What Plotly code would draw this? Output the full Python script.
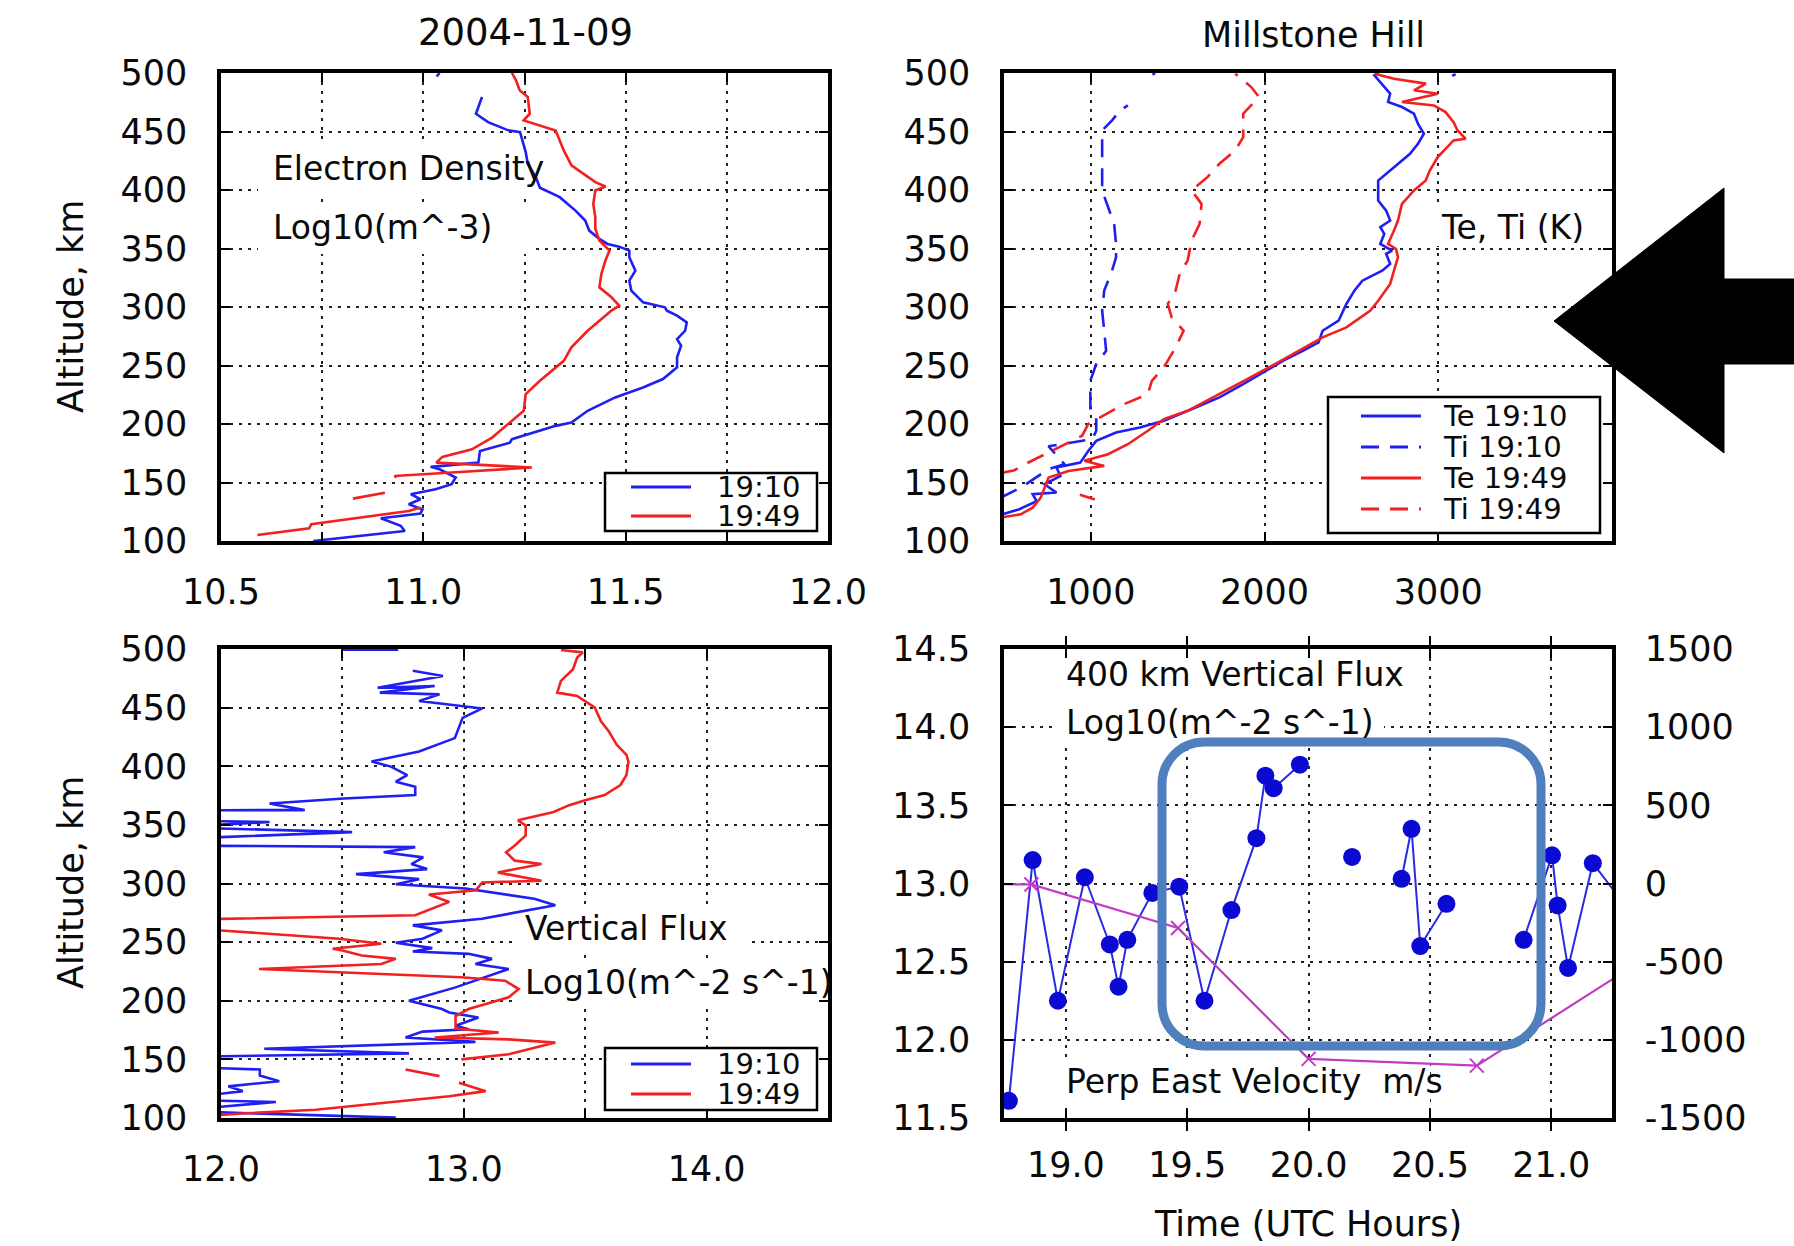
import plotly.graph_objects as go

# ---------------- data (altitude km, value) ----------------
ne_1910 = [(100,10.728),(108.6,10.954),(113,10.944),(119.4,10.895),(123.4,10.993),(127,10.998),(131.4,10.964),
           (135.7,10.993),(140,10.969),(144.2,11.03),(148.5,11.07),(154.3,11.08),(161.3,11.04),(163.4,11.018),
           (164.2,11.047),(167,11.136),(177,11.14),(180,11.17),(184,11.214),(187,11.219),(191.3,11.258),
           (198.4,11.327),(201.3,11.366),(211.3,11.406),(222.7,11.474),(231.2,11.543),(238.4,11.592),
           (248.4,11.627),(257,11.627),(266.9,11.637),(272.6,11.627),(279.8,11.647),(286.9,11.651),
           (292.6,11.627),(296.9,11.602),(299.7,11.597),(304,11.543),(314,11.514),(322.5,11.509),(331,11.524),
           (342.5,11.509),(348.2,11.509),(351.6,11.484),(353.9,11.455),(358.2,11.435),(365.3,11.41),
           (373.9,11.40),(382.4,11.376),(393.9,11.337),(401.9,11.288),(411,11.278),(422.4,11.258),
           (432.4,11.253),(442.4,11.244),(449.5,11.239),(451,11.21),(458,11.16),(465.2,11.13),(473.8,11.14),
           (479.5,11.145),(None,None),(497,11.033),(500,11.04)]
ne_1949 = [(105.1,10.59),(110.8,10.718),(114.3,10.723),(122.8,10.895),(125.7,10.964),(128.6,10.993),(None,None),
           (136.2,10.826),(141.3,10.905),(None,None),(154.2,10.934),(155.6,10.929),(158.5,11.07),(162.8,11.268),
           (167,11.032),(171.9,11.047),(178.4,11.12),(188.4,11.17),(211.3,11.248),(225.5,11.253),(236.9,11.288),
           (254,11.347),(265.5,11.366),(279.7,11.406),(296.9,11.465),(301.1,11.484),(308.3,11.465),(316.8,11.435),
           (328.3,11.44),(339.7,11.45),(348.2,11.46),(356.8,11.435),(366.8,11.425),(376.7,11.425),(388.1,11.42),
           (399.6,11.425),(403,11.45),(406.7,11.425),(413.8,11.396),(421,11.366),(433.8,11.347),(450.9,11.327),
           (459.5,11.248),(465.2,11.263),(479.5,11.258),(485.2,11.238),(493.7,11.229),(500,11.219)]

te_1910 = [(120,430),(127,585),(134,688),(140,665),(141.4,802),(148.5,733),(155.6,825),(162.8,802),(167,939),
           (177,985),(185.6,1031),(192.7,1145),(197,1282),(202.7,1420),(214.1,1603),(222.7,1740),(234,1877),
           (244,1991),(254,2105),(262.6,2220),(269.8,2311),(279.7,2334),(288.3,2426),(302.6,2471),(314,2517),
           (322.5,2563),(331,2677),(336.8,2723),(345.4,2700),(348.2,2734),(353.9,2666),(362.5,2689),(368.2,2666),
           (373.9,2723),(382.4,2700),(391,2654),(408.1,2654),(416.7,2723),(425.3,2791),(431,2837),(439.5,2883),
           (448.1,2917),(456.6,2883),(465.2,2860),(470.9,2791),(475.2,2711),(482.3,2723),(498,2632),(500,2655),
           (None,None),(497.5,3080),(499,3100)]
ti_1910 = [(137,480),(145.6,596),(161.4,756),(165.6,848),(181,756),(187,1008),(194.2,1031),(205.6,1031),
           (211.3,997),(222.7,997),(236.9,997),(251.2,1031),(262.6,1088),(279.7,1077),(296.9,1065),(314,1077),
           (331,1122),(342.5,1145),(353.9,1145),(371,1134),(385.3,1100),(399.6,1065),(413.8,1065),(436.7,1065),
           (450.9,1065),(459.5,1122),(468,1168),(472.3,1213),(None,None),(498.5,1355),(500,1370)]
te_1949 = [(120,480),(122.8,596),(128.5,665),(137,711),(154.3,757),(159.9,871),(164.2,1077),(168.5,962),
           (174.2,1099),(182.7,1213),(194.2,1328),(204.1,1420),(211.3,1557),(225.5,1740),(238.4,1900),
           (251.2,2060),(262.6,2197),(274,2334),(282.6,2471),(296.9,2609),(305.4,2654),(319.7,2723),(331,2745),
           (342.5,2768),(349.6,2757),(353.9,2711),(365.3,2745),(373.9,2768),(388.2,2791),(393.9,2825),
           (399.6,2860),(408.1,2928),(416.7,2951),(428.1,2997),(436.7,3054),(442.4,3088),(443.8,3157),
           (450.9,3111),(458,3088),(466.6,3042),(472.3,2974),(475.2,2791),(482.3,2997),(485.2,2860),
           (490.9,2928),(495.1,2745),(499.4,2632)]
ti_1949 = [(139.5,937),(135.5,1023),(None,None),(158,480),(160.5,560),(165.6,620),(175,750),(190,950),(200,985),
           (205.6,1054),(217,1191),(225.5,1328),(236.9,1351),(248.4,1420),(265.5,1488),(279.7,1534),
           (291.1,1465),(302.6,1443),(314,1488),(328.3,1511),(339.7,1557),(356.8,1580),(371,1626),(388.1,1637),
           (399.6,1580),(411,1671),(422.4,1740),(433.8,1831),(445.2,1877),(465.2,1877),(479.5,1968),(488,1923),
           (499.4,1831)]

flux_1910 = [(100.3,12.72),(106,11.8),(113.7,12.226),(115.7,11.8),(122.9,12.09),(127,12.03),(131.4,12.24),
             (136.3,12.16),(141.4,12.16),(143.7,11.8),(152,11.8),(155.1,12.774),(159.1,12.178),(164.9,13.048),
             (168.6,12.76),(173.7,12.83),(175.7,13.02),(178.6,12.966),(185.7,13.06),(190,12.94),(192.9,12.91),
             (200,12.774),(211.4,12.966),(227.1,13.185),(231.4,13.048),(235.7,13.116),(240,13.02),(242,12.79),
             (244.9,12.87),(249.4,12.72),(252.9,12.83),(260,12.91),(264.3,12.79),(270,13.075),(281.4,13.377),
             (287,13.29),(295.7,13.007),(299.4,12.72),(303.7,12.816),(308,12.556),(312.3,12.849),(316.6,12.784),
             (322.3,12.833),(326.6,12.67),(331,12.80),(332.4,11.8),(338,11.8),(343.8,12.54),(348.1,11.8),
             (352.4,12.2),(353.9,11.8),(362.5,11.8),(362.6,12.345),(368.2,12.2),(372.5,12.507),(375.4,12.8),
             (382.5,12.8),(386.8,12.72),(392.5,12.767),(399.7,12.70),(404,12.62),(412.6,12.816),(424,12.963),
             (432.7,12.98),(441.3,12.995),(449.3,13.076),(455.6,12.816),(461.3,12.9),(462.8,12.654),
             (468.5,12.88),(467,12.645),(477,12.914),(481.4,12.79),(None,None),(499.5,12.5),(499.5,12.73)]
flux_1949 = [(101,11.9),(104,12.1),(107,12.39),(112.9,12.66),(118.6,12.94),(122.9,13.09),(127,13.02),(130,12.98),
             (None,None),(135.7,12.9),(141.4,12.76),(None,None),(150,12.99),(154.3,13.185),(164.3,13.377),
             (167.1,13.185),(168.6,12.88),(172.9,13.144),(176.3,12.966),(187,12.966),(192.9,13.02),(202.9,13.185),
             (210,13.226),(217.1,13.17),(220,12.99),(227.1,12.157),(231.4,12.66),(235.7,12.72),(238.6,12.58),
             (242.9,12.5),(244.3,12.46),(248.6,12.66),(252.9,12.486),(261.4,11.9),(269.4,11.9),(272.9,12.80),
             (284.3,12.94),(290.6,12.856),(294.3,13.05),(300.9,13.076),(302.3,13.32),(309.4,13.14),(316.6,13.32),
             (319.5,13.21),(326.6,13.174),(332.4,13.21),(341,13.255),(349.6,13.255),(353.9,13.223),(361,13.37),
             (366.8,13.434),(371,13.5),(375.4,13.58),(384,13.645),(392.6,13.67),(404,13.678),(409.7,13.67),
             (418.3,13.63),(429.8,13.597),(438.4,13.565),(449.9,13.54),(459.9,13.467),(462.8,13.385),
             (472.8,13.4),(482.8,13.45),(492.8,13.467),(497.1,13.49),(499.1,13.40)]

flux400_time = [18.765, 18.863, 18.967, 19.078, 19.181, 19.217, 19.253, 19.356, 19.467, 19.571, 19.682, 19.785,
                19.822, 19.856, 19.964, None, 20.179, None, 20.383, 20.424, 20.46, 20.568, None, 20.886, 21.003,
                21.026, 21.069, 21.171, 21.30]
flux400_val = [11.61, 13.15, 12.25, 13.04, 12.61, 12.34, 12.64, 12.94, 12.98, 12.25, 12.83, 13.29,
               13.69, 13.61, 13.76, None, 13.17, None, 13.03, 13.35, 12.60, 12.87, None, 12.64, 13.18,
               12.86, 12.46, 13.13, 12.87]
vel_time = [18.26, 18.858, 19.462, 20.0, 20.693, 21.30]
vel_val = [0, -6, -285, -1122, -1165, -565]

# tick labels
alt_ticks = [100, 150, 200, 250, 300, 350, 400, 450, 500]
ne_ticks = [10.5, 10.75, 11.0, 11.25, 11.5, 11.75, 12.0]
ne_labels = ["10.5", "", "11.0", "", "11.5", "", "12.0"]
temp_ticks = [1000, 2000, 3000]
temp_labels = ["1000", "2000", "3000"]
flux_ticks = [12.0, 12.5, 13.0, 13.5, 14.0, 14.5]
flux_labels = ["12.0", "", "13.0", "", "14.0", ""]
time_ticks = [19.0, 19.5, 20.0, 20.5, 21.0]
time_labels = ["19.0", "19.5", "20.0", "20.5", "21.0"]
f400_ticks = [11.5, 12.0, 12.5, 13.0, 13.5, 14.0, 14.5]
f400_labels = ["11.5", "12.0", "12.5", "13.0", "13.5", "14.0", "14.5"]
vel_ticks = [-1500, -1000, -500, 0, 500, 1000, 1500]
vel_labels = ["-1500", "-1000", "-500", "0", "500", "1000", "1500"]

# ---------------- layout geometry (pixels) ----------------
W, H = 1794, 1246
FONT = "DejaVu Sans"
TXT = "#0a0a0a"
BLUE = "#1f1ff2"
RED = "#f22020"
TL = dict(l=221, r=828, t=73, b=541, xr=[10.5, 12.0], yr=[100, 500])
TR = dict(l=1004, r=1612, t=73, b=541, xr=[500, 4000], yr=[100, 500])
BL = dict(l=221, r=828, t=649, b=1118, xr=[12.0, 14.5], yr=[100, 500])
BR = dict(l=1004, r=1612, t=649, b=1118, xr=[18.745, 21.25], yr=[11.5, 14.5])


def PX(x):
    return x / W


def PY(y):
    return 1 - y / H


def dx(p, px):
    return p["xr"][0] + (px - p["l"]) / (p["r"] - p["l"]) * (p["xr"][1] - p["xr"][0])


def dy(p, py):
    return p["yr"][1] - (py - p["t"]) / (p["b"] - p["t"]) * (p["yr"][1] - p["yr"][0])


def split(pairs):
    alts = [a for a, v in pairs]
    vals = [v for a, v in pairs]
    return alts, vals


fig = go.Figure()


def prof(pairs, color, xa, ya, dash="solid", name=""):
    alts, vals = split(pairs)
    fig.add_trace(go.Scatter(x=vals, y=alts, mode="lines", name=name, showlegend=False,
                             line=dict(color=color, width=2.6, dash=dash),
                             xaxis=xa, yaxis=ya, connectgaps=False))


DASH = "18px,11px"
prof(ne_1910, BLUE, "x", "y", name="19:10")
prof(ne_1949, RED, "x", "y", name="19:49")
prof(te_1910, BLUE, "x2", "y2", name="Te 19:10")
prof(ti_1910, BLUE, "x2", "y2", DASH, name="Ti 19:10")
prof(te_1949, RED, "x2", "y2", name="Te 19:49")
prof(ti_1949, RED, "x2", "y2", DASH, name="Ti 19:49")
prof(flux_1910, BLUE, "x3", "y3", name="19:10")
prof(flux_1949, RED, "x3", "y3", name="19:49")

fig.add_trace(go.Scatter(x=vel_time, y=vel_val, mode="lines+markers", showlegend=False,
                         line=dict(color="#c03cc4", width=2.2),
                         marker=dict(symbol="x-thin", size=14, line=dict(color="#c03cc4", width=2)),
                         xaxis="x4", yaxis="y5", name="Perp East Velocity"))
fig.add_trace(go.Scatter(x=flux400_time, y=flux400_val, mode="lines+markers", showlegend=False,
                         line=dict(color="#2a2ae0", width=2),
                         marker=dict(color="#0a0ad2", size=18),
                         xaxis="x4", yaxis="y4", name="400 km Vertical Flux"))

GRID = dict(showgrid=True, gridcolor="#222222", gridwidth=2, griddash="3px,6px", zeroline=False,
            showline=True, linecolor="black", linewidth=3.5, mirror="allticks", automargin=False,
            ticks="inside", ticklen=9, tickwidth=2, tickcolor="black",
            tickfont=dict(family=FONT, size=35, color=TXT))


def xax(p, anchor, vals, labels, standoff=17):
    d = dict(GRID)
    d.update(domain=[PX(p["l"]), PX(p["r"])], anchor=anchor, range=p["xr"],
             tickmode="array", tickvals=vals, ticktext=labels, ticklabelstandoff=standoff)
    return d


def yax(p, anchor, vals, labels):
    d = dict(GRID)
    d.update(domain=[PY(p["b"]), PY(p["t"])], anchor=anchor, range=p["yr"],
             tickmode="array", tickvals=vals, ticktext=labels, ticklabelstandoff=23)
    return d


alt_labels = [str(a) for a in alt_ticks]
layout = dict(
    width=W, height=H, margin=dict(l=0, r=0, t=0, b=0, pad=0, autoexpand=False),
    paper_bgcolor="white", plot_bgcolor="white", showlegend=False,
    font=dict(family=FONT, color=TXT),
    xaxis=xax(TL, "y", ne_ticks, ne_labels), yaxis=yax(TL, "x", alt_ticks, alt_labels),
    xaxis2=xax(TR, "y2", temp_ticks, temp_labels), yaxis2=yax(TR, "x2", alt_ticks, alt_labels),
    xaxis3=xax(BL, "y3", flux_ticks, flux_labels), yaxis3=yax(BL, "x3", alt_ticks, alt_labels),
    xaxis4=xax(BR, "y4", time_ticks, time_labels, 13), yaxis4=yax(BR, "x4", f400_ticks, f400_labels),
)
y5 = dict(GRID)
y5.update(showgrid=False, mirror=False, overlaying="y4", side="right", anchor="x4",
          range=[-1500, 1500], tickmode="array", tickvals=vel_ticks, ticktext=vel_labels,
          ticklabelstandoff=22)
layout["yaxis5"] = y5
fig.update_layout(**layout)

shapes = []
annots = []


def txt(text, x, y, size=33, xanchor="left", angle=0):
    annots.append(dict(text=text, x=PX(x), y=PY(y), xref="paper", yref="paper", showarrow=False,
                       xanchor=xanchor, yanchor="middle", textangle=angle,
                       font=dict(family=FONT, size=size, color=TXT)))


def whitebox(p, xr, yr, x0, x1, y0, y1):
    shapes.append(dict(type="rect", xref=xr, yref=yr, layer="between",
                       x0=dx(p, x0), x1=dx(p, x1), y0=dy(p, y1), y1=dy(p, y0),
                       fillcolor="white", line=dict(width=0)))


# text boxes hiding grid behind in-plot labels
whitebox(TL, "x", "y", 258, 560, 144, 196)
whitebox(TL, "x", "y", 258, 530, 204, 254)
whitebox(TR, "x2", "y2", 1430, 1598, 208, 246)
whitebox(BL, "x3", "y3", 512, 752, 905, 952)
whitebox(BL, "x3", "y3", 512, 826, 959, 1005)
whitebox(BR, "x4", "y4", 1055, 1416, 651, 698)
whitebox(BR, "x4", "y4", 1055, 1384, 700, 746)
whitebox(BR, "x4", "y4", 1055, 1430, 1058, 1104)

txt("Electron Density", 271, 169)
txt("Log10(m^-3)", 271, 228)
txt("Te, Ti (K)", 1439, 228)
txt("Vertical Flux", 523, 928)
txt("Log10(m^-2 s^-1)", 523, 982)
txt("400 km Vertical Flux", 1064, 674)
txt("Log10(m^-2 s^-1)", 1064, 722)
txt("Perp East Velocity  m/s", 1064, 1081)

txt("2004-11-09", 525, 32, size=37, xanchor="center")
txt("Millstone Hill", 1313, 35, size=35, xanchor="center")
txt("Altitude, km", 71, 307, size=35, xanchor="center", angle=-90)
txt("Altitude, km", 71, 883, size=35, xanchor="center", angle=-90)
txt("Time (UTC Hours)", 1308, 1224, size=35, xanchor="center")


# manual legends
def legend(box, rows, line_x, text_x):
    x0, y0, x1, y1 = box
    shapes.append(dict(type="rect", xref="paper", yref="paper", layer="above",
                       x0=PX(x0), x1=PX(x1), y0=PY(y1), y1=PY(y0),
                       fillcolor="white", line=dict(color="black", width=2.5)))
    for label, color, dash, yy in rows:
        shapes.append(dict(type="line", xref="paper", yref="paper", layer="above",
                           x0=PX(line_x[0]), x1=PX(line_x[1]), y0=PY(yy), y1=PY(yy),
                           line=dict(color=color, width=3, dash=dash)))
        txt(label, text_x, yy, size=29)


legend((605, 473, 817, 531), [("19:10", BLUE, "solid", 487), ("19:49", RED, "solid", 516)], (631, 691), 715)
legend((1328, 397, 1600, 533), [("Te 19:10", BLUE, "solid", 416), ("Ti 19:10", BLUE, DASH, 447),
                                ("Te 19:49", RED, "solid", 478), ("Ti 19:49", RED, DASH, 509)], (1361, 1421), 1441)
legend((605, 1048, 817, 1110), [("19:10", BLUE, "solid", 1064), ("19:49", RED, "solid", 1094)], (631, 691), 715)

# highlight rounded rectangle
rx, ry = 42 / W, 42 / H
bx0, bx1, by0, by1 = PX(1162), PX(1541), PY(1046), PY(742)
k = 0.45
path = (f"M {bx0+rx},{by1} L {bx1-rx},{by1} C {bx1-rx*k},{by1} {bx1},{by1-ry*k} {bx1},{by1-ry} "
        f"L {bx1},{by0+ry} C {bx1},{by0+ry*k} {bx1-rx*k},{by0} {bx1-rx},{by0} "
        f"L {bx0+rx},{by0} C {bx0+rx*k},{by0} {bx0},{by0+ry*k} {bx0},{by0+ry} "
        f"L {bx0},{by1-ry} C {bx0},{by1-ry*k} {bx0+rx*k},{by1} {bx0+rx},{by1} Z")
shapes.append(dict(type="path", path=path, xref="paper", yref="paper", layer="above",
                   line=dict(color="#4f7fbd", width=9), fillcolor="rgba(0,0,0,0)"))

# black arrow
pts = [(1554, 321), (1724, 188), (1724, 279), (1794, 279), (1794, 364), (1724, 364), (1724, 453)]
apath = "M " + " L ".join(f"{PX(x)},{PY(y)}" for x, y in pts) + " Z"
shapes.append(dict(type="path", path=apath, xref="paper", yref="paper", layer="above",
                   fillcolor="black", line=dict(color="black", width=1)))

fig.update_layout(shapes=shapes, annotations=annots)
fig.write_html("out.html")
